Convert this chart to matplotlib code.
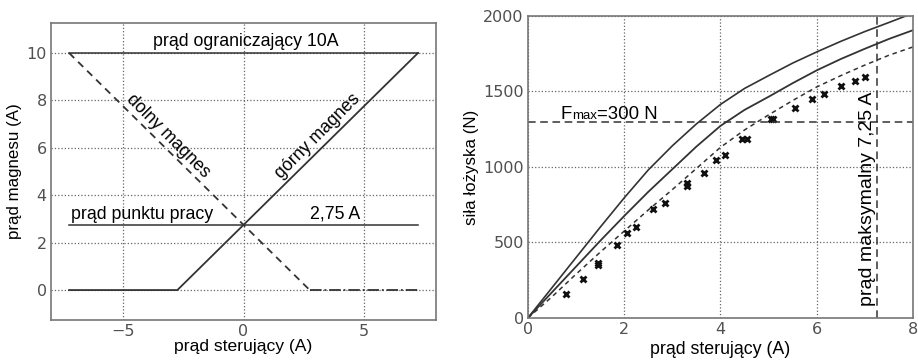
import matplotlib
matplotlib.use("Agg")
import matplotlib.pyplot as plt
from matplotlib.transforms import offset_copy

plt.rcParams['font.family'] = ['Liberation Sans', 'DejaVu Sans']

# Left chart data
i_limit = 10.0
i_work = 2.75
gorny_x = [-7.25, -2.75, 7.25]
gorny_y = [0, 0, 10]
dolny_x = [-7.25, 2.75]
dolny_y = [10, 0]
dolny_zero_x = [2.75, 7.25]
dolny_zero_y = [0, 0]
span_x = [-7.25, 7.25]

# Right chart data
upper_x = [0, 0.5, 1, 1.5, 2, 2.5, 3, 3.5, 4, 4.5, 5, 5.5, 6, 6.5, 7, 7.5, 7.85]
upper_y = [0, 200, 400, 600, 795, 980, 1140, 1285, 1414, 1520, 1605, 1688, 1762, 1832, 1897, 1957, 2000]
mid_x = [0, 0.5, 1, 1.5, 2, 2.5, 3, 3.5, 4, 4.5, 5, 5.5, 6, 6.5, 7, 7.5, 8]
mid_y = [0, 170, 340, 510, 675, 835, 985, 1135, 1272, 1378, 1465, 1555, 1640, 1715, 1783, 1848, 1906]
dash_x = [0, 0.5, 1, 1.5, 2, 2.5, 3, 3.5, 4, 4.5, 5, 5.5, 6, 6.5, 7, 7.5, 8]
dash_y = [0, 140, 290, 435, 575, 715, 850, 990, 1130, 1245, 1345, 1440, 1530, 1605, 1675, 1740, 1795]
meas_x = [0.8, 1.15, 1.45, 1.45, 1.85, 2.05, 2.25, 2.6, 2.85, 3.3, 3.3, 3.65, 3.9, 4.1,
          4.45, 4.55, 5.05, 5.1, 5.55, 5.9, 6.15, 6.5, 6.8, 7.0]
meas_y = [160, 260, 350, 365, 485, 565, 605, 720, 760, 875, 895, 960, 1045, 1080,
          1185, 1185, 1315, 1315, 1390, 1450, 1480, 1535, 1570, 1595]
f_max = 1300
i_max = 7.25

fig = plt.figure(figsize=(9.18, 3.63), dpi=100)
ax1 = fig.add_axes([0.0556, 0.118, 0.4194, 0.819])
ax2 = fig.add_axes([0.575, 0.124, 0.4196, 0.832])

tick_col = '#505050'
line_col = '#333333'
for ax in (ax1, ax2):
    ax.grid(True, linestyle=':', color='#666666', linewidth=0.9)
    for s in ax.spines.values():
        s.set_color('#777777')
        s.set_linewidth(1.2)
    ax.tick_params(length=0, labelsize=11.5, colors=tick_col, pad=3)

# Left
ax1.plot(span_x, [i_limit, i_limit], color=line_col, lw=1.1)
ax1.plot(span_x, [i_work, i_work], color=line_col, lw=1.1)
ax1.plot(gorny_x, gorny_y, color=line_col, lw=1.3)
ax1.plot(dolny_x, dolny_y, color=line_col, lw=1.3, ls=(0, (4, 3)))
ax1.plot(dolny_zero_x, dolny_zero_y, color=line_col, lw=1.3, ls='-.')
ax1.set_xlim(-8, 8)
ax1.set_ylim(-1.27, 11.27)
ax1.set_xticks([-5, 0, 5])
ax1.set_xticklabels(['\u22125', '0', '5'])
ax1.set_yticks([0, 2, 4, 6, 8, 10])
ax1.set_xlabel('prąd sterujący (A)', fontsize=12.6, labelpad=0)
ax1.set_ylabel('prąd magnesu (A)', fontsize=12.2, labelpad=3)
fs = 12.8
ax1.text(0.1, 10.5, 'prąd ograniczający 10A', ha='center', va='center', fontsize=fs)
ax1.text(-7.15, 3.2, 'prąd punktu pracy', ha='left', va='center', fontsize=fs)
ax1.text(4.85, 3.2, '2,75 A', ha='right', va='center', fontsize=fs)
ax1.text(-3.15, 6.5, 'dolny magnes', ha='center', va='center', rotation=-45, fontsize=fs)
ax1.text(3.1, 6.5, 'górny magnes', ha='center', va='center', rotation=45, fontsize=fs)

for lab in ax1.get_xticklabels() + ax1.get_yticklabels():
    lab.set_family('DejaVu Sans')

# Right
ax2.plot(upper_x, upper_y, color=line_col, lw=1.2)
ax2.plot(mid_x, mid_y, color=line_col, lw=1.3)
ax2.plot(dash_x, dash_y, color=line_col, lw=1.1, ls=(0, (3, 2.5)))
ax2.plot(meas_x, meas_y, ls='none', marker='x', color='#111111', ms=5, mew=2)
ax2.axhline(f_max, color=line_col, lw=1.1, ls=(0, (5, 3)))
ax2.axvline(i_max, color=line_col, lw=1.1, ls=(0, (5, 3)))
ax2.set_xlim(0, 8)
ax2.set_ylim(0, 2000)
ax2.set_xticks([0, 2, 4, 6, 8])
ax2.set_yticks([0, 500, 1000, 1500, 2000])
ax2.set_xlabel('prąd sterujący (A)', fontsize=12.8, labelpad=3)
ax2.set_ylabel('siła łożyska (N)', fontsize=12.2, labelpad=3)
for lab in ax2.get_xticklabels() + ax2.get_yticklabels():
    lab.set_family('DejaVu Sans')

# F_max label: "F" + small "max" on same baseline + "=300 N"
fx, fy = 0.68, 1320
t1 = ax2.text(fx, fy, 'F', fontsize=13.4, va='baseline', ha='left')
fig.canvas.draw()
w1 = t1.get_window_extent().width * 72 / fig.dpi
t2 = ax2.text(fx, fy, 'max', fontsize=9.5, va='baseline', ha='left',
              transform=offset_copy(ax2.transData, fig=fig, x=w1, y=0, units='points'))
fig.canvas.draw()
w2 = t2.get_window_extent().width * 72 / fig.dpi
ax2.text(fx, fy, '=300 N', fontsize=13.4, va='baseline', ha='left',
         transform=offset_copy(ax2.transData, fig=fig, x=w1 + w2, y=0, units='points'))

ax2.text(7.06, 790, 'prąd maksymalny 7,25 A', ha='center', va='center', rotation=90, fontsize=14)

fig.savefig('out.png', dpi=100)
